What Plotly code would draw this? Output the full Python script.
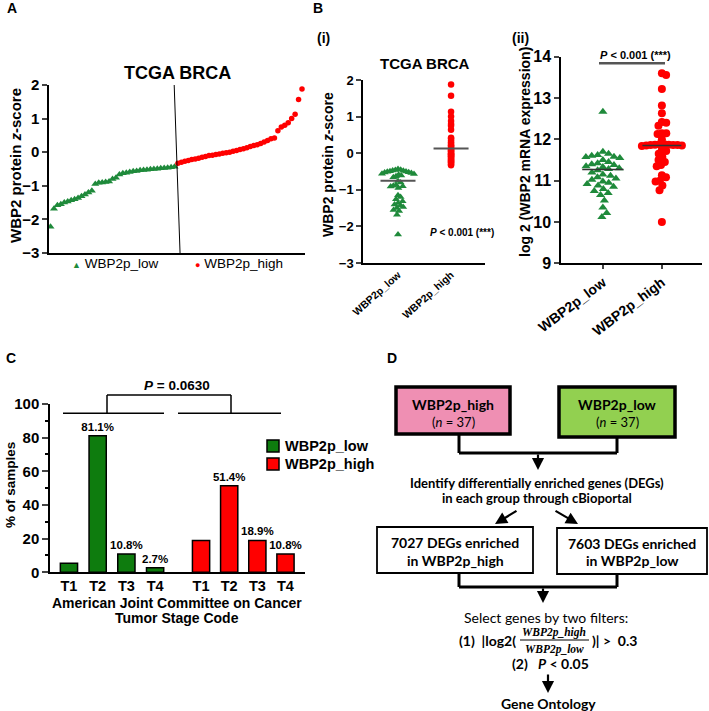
import math
import numpy as np
import plotly.graph_objects as go

W, H = 709, 711
FONT = "Liberation Sans, Arial, sans-serif"
DFONT = "Lato, Open Sans, sans-serif"
SERIF = "Liberation Serif, serif"
GREEN = "#1f8a3b"
RED = "#ff0000"
BAR_GREEN = "#0e7c0e"
PINK = "#ef8fb3"
LIME = "#92d050"

# ---------------- data ----------------
group_labels = ["WBP2p_low", "WBP2p_high"]
protein_low = [-2.22, -1.68, -1.58, -1.55, -1.50, -1.47, -1.43, -1.40, -1.36, -1.31,
               -1.26, -1.20, -1.15, -0.95, -0.91, -0.90, -0.89, -0.87, -0.80, -0.76,
               -0.66, -0.63, -0.61, -0.59, -0.57, -0.56, -0.54, -0.53, -0.52, -0.51,
               -0.50, -0.49, -0.48, -0.47, -0.46, -0.45, -0.43]
protein_high = [-0.33, -0.30, -0.27, -0.25, -0.22, -0.20, -0.18, -0.15, -0.13, -0.10,
                -0.09, -0.07, -0.05, -0.03, -0.02, 0.00, 0.03, 0.05, 0.08, 0.10,
                0.13, 0.17, 0.20, 0.22, 0.26, 0.30, 0.35, 0.40, 0.42, 0.64,
                0.75, 0.80, 0.88, 1.00, 1.13, 1.57, 1.88]
protein_center = [-0.75, 0.13]
mrna_low = [12.67, 11.70, 11.65, 11.62, 11.60, 11.58, 11.57, 11.55, 11.50, 11.45,
            11.42, 11.40, 11.38, 11.35, 11.33, 11.30, 11.28, 11.25, 11.20, 11.15,
            11.12, 11.08, 11.05, 11.02, 10.98, 10.95, 10.92, 10.88, 10.85, 10.80,
            10.75, 10.70, 10.65, 10.52, 10.35, 10.22, 10.12]
mrna_high = [13.60, 13.56, 13.22, 12.82, 12.63, 12.42, 12.40, 12.33, 12.15, 12.15,
             12.13, 12.00, 11.88, 11.88, 11.87, 11.87, 11.86, 11.86, 11.86, 11.85,
             11.85, 11.84, 11.75, 11.72, 11.65, 11.57, 11.50, 11.45, 11.38, 11.35,
             11.13, 11.08, 11.00, 10.98, 10.88, 10.77, 10.00]
mrna_center = [11.27, 11.85]
stage_labels = ["T1", "T2", "T3", "T4"]
stage_pct_low = [5.4, 81.1, 10.8, 2.7]
stage_pct_high = [18.9, 51.4, 18.9, 10.8]
stage_text_low = ["", "81.1%", "10.8%", "2.7%"]
stage_text_high = ["", "51.4%", "18.9%", "10.8%"]


def px(x):
    return x / W


def py(y):
    return 1 - y / H


def swarm(vals, ppu_y, ppu_x, d, limit_px):
    """Deterministic beeswarm layout; widest spread capped at limit_px."""
    vals = np.asarray(vals, dtype=float)
    order = np.argsort(-vals, kind="stable")
    placed = []
    offs = np.zeros(len(vals))
    for i in order:
        y = vals[i] * ppu_y
        cands = [0.0]
        for (qx, qy) in placed:
            dy = abs(qy - y)
            if dy < d:
                dx = math.sqrt(d * d - dy * dy)
                cands += [qx + dx + 1e-6, qx - dx - 1e-6]
        cands.sort(key=abs)
        for c in cands:
            if all((c - qx) ** 2 + (y - qy) ** 2 >= d * d - 1e-4 for qx, qy in placed):
                offs[i] = c
                placed.append((c, y))
                break
    m = np.abs(offs).max()
    if m > limit_px:
        offs = offs * (limit_px / m)
    return offs / ppu_x


fig = go.Figure()

# ---------------- Panel A ----------------
nA = len(protein_low)
fig.add_trace(go.Scatter(x=list(range(nA)), y=protein_low, mode="markers",
                         marker=dict(symbol="triangle-up", size=7, color=GREEN),
                         xaxis="x", yaxis="y", showlegend=False))
fig.add_trace(go.Scatter(x=list(range(nA, nA + len(protein_high))), y=protein_high, mode="markers",
                         marker=dict(symbol="circle", size=5.5, color=RED),
                         xaxis="x", yaxis="y", showlegend=False))

# ---------------- Panel B(i) ----------------
off_bi = swarm(protein_low, 36.6, 53, 6.0, 16)
fig.add_trace(go.Scatter(x=list(0 + off_bi), y=protein_low, mode="markers",
                         marker=dict(symbol="triangle-up", size=7, color=GREEN),
                         xaxis="x2", yaxis="y2", showlegend=False))
fig.add_trace(go.Scatter(x=[1] * len(protein_high), y=protein_high, mode="markers",
                         marker=dict(symbol="circle", size=6.5, color=RED),
                         xaxis="x2", yaxis="y2", showlegend=False))

# ---------------- Panel B(ii) ----------------
off_l = swarm(mrna_low, 41.3, 59, 7.0, 17)
off_h = swarm(mrna_high, 41.3, 59, 6.0, 20)
fig.add_trace(go.Scatter(x=list(0 + off_l), y=mrna_low, mode="markers",
                         marker=dict(symbol="triangle-up", size=8, color=GREEN),
                         xaxis="x3", yaxis="y3", showlegend=False))
fig.add_trace(go.Scatter(x=list(1 + off_h), y=mrna_high, mode="markers",
                         marker=dict(symbol="circle", size=8, color=RED),
                         xaxis="x3", yaxis="y3", showlegend=False))

# ---------------- Panel C ----------------
pos_low = [float(i) for i in range(4)]
pos_high = [4.6 + 0.98 * i for i in range(4)]
for pos, vals, txt, col in [(pos_low, stage_pct_low, stage_text_low, BAR_GREEN),
                            (pos_high, stage_pct_high, stage_text_high, RED)]:
    fig.add_trace(go.Bar(x=pos, y=vals, width=0.6, text=txt, texttemplate="<b>%{text}</b>",
                         textposition="outside", constraintext="none", cliponaxis=False,
                         textfont=dict(family=FONT, size=11.5, color="black"),
                         marker=dict(color=col, line=dict(color="black", width=1.5)),
                         xaxis="x4", yaxis="y4", showlegend=False))

axis_common = dict(showline=True, linecolor="black", linewidth=1.5, showgrid=False,
                   zeroline=False, mirror=False, automargin=False)

layout = dict(
    width=W, height=H, margin=dict(l=0, r=0, t=0, b=0, autoexpand=False),
    paper_bgcolor="white", plot_bgcolor="white", showlegend=False,
    font=dict(family=FONT, color="black"),
    xaxis=dict(domain=[px(49), px(305)], range=[-0.44, 73.87], showticklabels=False,
               ticks="", anchor="y", **axis_common),
    yaxis=dict(domain=[py(253), py(85)], range=[-3, 2], dtick=1, ticks="outside",
               ticklen=5, tickwidth=1.5, anchor="x",
               tickfont=dict(family=FONT, size=15, color="black", weight="bold"), **axis_common),
    xaxis2=dict(domain=[px(363), px(485)], range=[-0.66, 1.64], tickvals=[0, 1],
                ticktext=group_labels, tickangle=-42, ticks="", anchor="y2",
                tickfont=dict(family=FONT, size=10.5, color="black", weight="bold"), **axis_common),
    yaxis2=dict(domain=[py(263), py(80)], range=[-3, 2], dtick=1, ticks="outside",
                ticklen=5, tickwidth=1.5, anchor="x2",
                tickfont=dict(family=FONT, size=13, color="black", weight="bold"), **axis_common),
    xaxis3=dict(domain=[px(561), px(702)], range=[-0.71, 1.68], tickvals=[0, 1],
                ticktext=group_labels, tickangle=-37, ticks="outside", ticklen=4,
                tickwidth=1.5, anchor="y3",
                tickfont=dict(family=FONT, size=14, color="black", weight="bold"), **axis_common),
    yaxis3=dict(domain=[py(263.3), py(56.7)], range=[9, 14], dtick=1, ticks="outside",
                ticklen=5, tickwidth=1.5, anchor="x3",
                tickfont=dict(family=FONT, size=16, color="black", weight="bold"), **axis_common),
    xaxis4=dict(domain=[px(50), px(305)], range=[-0.66, 8.22], tickvals=pos_low + pos_high,
                ticktext=stage_labels * 2, ticks="", anchor="y4",
                tickfont=dict(family=FONT, size=14.5, color="black", weight="bold"), **axis_common),
    yaxis4=dict(domain=[py(572.3), py(404)], range=[0, 100], dtick=20, ticks="outside",
                ticklen=6, tickwidth=1.5, anchor="x4",
                minor=dict(ticks="outside", dtick=10, ticklen=3, tickwidth=1.5, tickcolor="black"),
                tickfont=dict(family=FONT, size=15, color="black", weight="bold"), **axis_common),
)
fig.update_layout(**layout)

shapes = []
annotations = []


def pline(x0, y0, x1, y1, w=1.5, color="black"):
    shapes.append(dict(type="line", xref="paper", yref="paper", x0=px(x0), y0=py(y0),
                       x1=px(x1), y1=py(y1), line=dict(color=color, width=w)))


def prect(x0, y0, x1, y1, fill, w):
    shapes.append(dict(type="rect", xref="paper", yref="paper", x0=px(x0), y0=py(y0),
                       x1=px(x1), y1=py(y1), fillcolor=fill, line=dict(color="black", width=w)))


def ann(text, x, y, size, xanchor="center", yanchor="middle", angle=0, family=FONT, color="black"):
    annotations.append(dict(text=text, x=px(x), y=py(y), xref="paper", yref="paper",
                            showarrow=False, xanchor=xanchor, yanchor=yanchor, textangle=angle,
                            font=dict(family=family, size=size, color=color)))


def arrow(hx, hy, tx, ty, w=2.2):
    annotations.append(dict(text="", x=px(hx), y=py(hy), xref="paper", yref="paper",
                            ax=tx - hx, ay=ty - hy, showarrow=True, arrowhead=2,
                            arrowsize=1.1, arrowwidth=w, arrowcolor="black", standoff=0))


# Panel labels
ann("<b>A</b>", 12, 8, 14)
ann("<b>B</b>", 318, 8, 14)
ann("<b>(i)</b>", 323, 38, 14)
ann("<b>(ii)</b>", 520, 38, 14)
ann("<b>C</b>", 11, 358, 14)
ann("<b>D</b>", 392, 358, 14)

# Panel A extras
shapes.append(dict(type="line", xref="x", yref="y", x0=35.9, y0=2, x1=37.6, y1=-3,
                   line=dict(color="black", width=1)))
ann("<b>TCGA BRCA</b>", 177, 73, 18)
ann("<b>WBP2 protein <i>z</i>-score</b>", 15, 166, 15, angle=-90)
ann('<span style="color:%s;font-size:9px">▲</span> WBP2p_low' % GREEN, 70, 263, 13.5, xanchor="left")
ann('<span style="color:%s;font-size:9px">●</span> WBP2p_high' % RED, 193, 263, 13.5, xanchor="left")

# Panel B(i) extras
ann("<b>TCGA BRCA</b>", 425, 63, 15)
ann("<b>WBP2 protein <i>z</i>-score</b>", 328, 165, 14, angle=-90)
ann("<b><i>P</i> &lt; 0.001 (***)</b>", 462, 233, 10)
for i, (c, hw) in enumerate(zip(protein_center, [0.33, 0.33])):
    shapes.append(dict(type="line", xref="x2", yref="y2", x0=i - hw, x1=i + hw, y0=c, y1=c,
                       line=dict(color="#555555", width=2)))

# Panel B(ii) extras
ann("<b>log 2 (WBP2 mRNA expression)</b>", 525, 152, 14, angle=-90)
for i, (c, hw) in enumerate(zip(mrna_center, [0.35, 0.33])):
    shapes.append(dict(type="line", xref="x3", yref="y3", x0=i - hw, x1=i + hw, y0=c, y1=c,
                       line=dict(color="#333333", width=1.5)))
pline(599, 63.3, 665, 63.3, w=2.5, color="#555555")
ann("<b><i>P</i> &lt; 0.001 (***)</b>", 635, 55, 11)

# Panel C extras
ann("<b>% of samples</b>", 10, 485, 13.5, angle=-90)
ann("<b>American Joint Committee on Cancer</b>", 177, 603, 14)
ann("<b>Tumor Stage Code</b>", 177, 618, 14)
pline(63, 413.3, 164, 413.3)
pline(178, 413.3, 281, 413.3)
pline(107, 413.3, 107, 395)
pline(231, 413.3, 231, 395)
pline(107, 395, 231, 395)
ann("<b><i>P</i> = 0.0630</b>", 177, 386, 13.5)
prect(267, 440, 279, 452, BAR_GREEN, 1.5)
prect(267, 458, 279, 470, RED, 1.5)
ann("<b>WBP2p_low</b>", 283, 446, 14.5, xanchor="left")
ann("<b>WBP2p_high</b>", 283, 464, 14.5, xanchor="left")

# Panel D flowchart
prect(396, 387, 510, 434, PINK, 3.5)
prect(559, 387, 675, 437, LIME, 3.5)
ann("<b>WBP2p_high</b>", 453, 404, 14, family=DFONT)
ann("(<i>n</i> = 37)", 453, 422, 13, family=DFONT)
ann("<b>WBP2p_low</b>", 617, 404, 14, family=DFONT)
ann("(<i>n</i> = 37)", 617, 422, 13, family=DFONT)
pline(459, 434, 459, 453, w=3)
pline(617, 437, 617, 453, w=3)
pline(459, 453, 617, 453, w=3)
arrow(538, 470, 538, 453)
ann("<b>Identify differentially enriched genes (DEGs)</b>", 537, 483, 13, family=DFONT)
ann("<b>in each group through cBioportal</b>", 537, 498, 13, family=DFONT)
arrow(495, 524, 518, 510)
arrow(578, 524, 554, 510)
prect(377, 527, 533, 573, "white", 1.8)
prect(557, 528, 707, 574, "white", 1.8)
ann("<b>7027 DEGs enriched</b>", 455, 542, 14, family=DFONT)
ann("<b>in WBP2p_high</b>", 455, 560, 14, family=DFONT)
ann("<b>7603 DEGs enriched</b>", 632, 543, 14, family=DFONT)
ann("<b>in WBP2p_low</b>", 632, 560, 14, family=DFONT)
pline(459, 573, 459, 587, w=3)
pline(617, 574, 617, 587, w=3)
pline(459, 587, 617, 587, w=3)
arrow(543, 603, 543, 587)
ann("Select genes by two filters:", 546, 617, 14, family=DFONT)
ann("<b>(1)  |log2(</b>", 518, 640, 14, xanchor="right", family=DFONT)
ann("<b><i>WBP2p_high</i></b>", 554, 632, 11.5, family=SERIF)
pline(520, 640, 589, 640, w=1.2)
ann("<b><i>WBP2p_low</i></b>", 554, 649, 11.5, family=SERIF)
ann("<b>)| &gt;  0.3</b>", 590, 640, 14, xanchor="left", family=DFONT)
ann("<b>(2)   <i>P</i> &lt; 0.05</b>", 550, 663, 14, family=DFONT)
arrow(548, 693, 548, 673)
ann("<b>Gene Ontology</b>", 548, 703, 14, family=DFONT)

fig.update_layout(shapes=shapes, annotations=annotations)
fig.write_html("out.html", config={"displayModeBar": False},
               post_script="document.body.style.margin='0';document.body.style.padding='0';"
                           "document.documentElement.style.overflow='hidden';")
